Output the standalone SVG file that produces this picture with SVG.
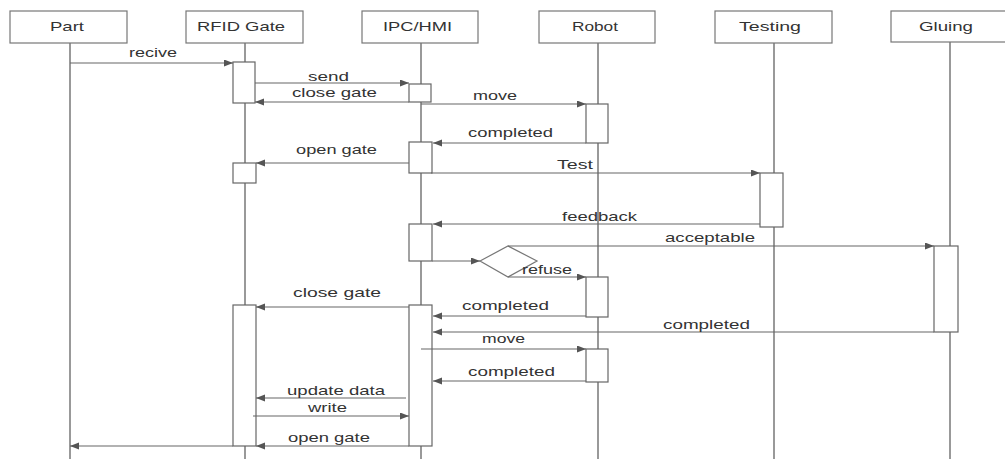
<svg xmlns="http://www.w3.org/2000/svg" width="1005" height="459" viewBox="0 0 1005 459">
<style>
.hdr{fill:#fff;stroke:#777;stroke-width:1.2}
.life{stroke:#777;stroke-width:1.5;fill:none}
.act{fill:#fff;stroke:#666;stroke-width:1.2}
.msg{stroke:#666;stroke-width:1.2;fill:none;marker-end:url(#ah)}
.t{font-family:"Liberation Sans",Arial,sans-serif;font-size:13.5px;fill:#333}
.dia{fill:#fff;stroke:#777;stroke-width:1.2}
</style>
<defs>
<marker id="ah" markerUnits="userSpaceOnUse" markerWidth="10" markerHeight="8" refX="9" refY="3.5" orient="auto">
<path d="M0,0 L9,3.5 L0,7 z" fill="#555"/>
</marker>
</defs>
<rect width="1005" height="459" fill="#fff"/>
<g id="part">
<line class="life" x1="70" y1="43" x2="70" y2="459"/>
<rect class="hdr" x="10" y="11" width="117" height="32"/>
<text class="t" x="50" y="31" textLength="34" lengthAdjust="spacingAndGlyphs">Part</text>
</g>
<g id="rfid">
<line class="life" x1="245" y1="43" x2="245" y2="459"/>
<rect class="hdr" x="186" y="11" width="117" height="32"/>
<text class="t" x="197" y="31" textLength="88" lengthAdjust="spacingAndGlyphs">RFID Gate</text>
<rect class="act" x="233" y="62" width="22" height="41"/>
<rect class="act" x="233" y="163" width="23" height="20"/>
<rect class="act" x="233" y="305" width="23" height="141"/>
</g>
<g id="ipc">
<line class="life" x1="421" y1="43" x2="421" y2="459"/>
<rect class="hdr" x="362" y="11" width="116" height="32"/>
<text class="t" x="383" y="31" textLength="69" lengthAdjust="spacingAndGlyphs">IPC/HMI</text>
<rect class="act" x="409" y="84" width="22" height="18"/>
<rect class="act" x="409" y="142" width="23" height="31"/>
<rect class="act" x="409" y="224" width="23" height="37"/>
<rect class="act" x="409" y="305" width="23" height="141"/>
</g>
<g id="robot">
<line class="life" x1="598" y1="43" x2="598" y2="459"/>
<rect class="hdr" x="539" y="11" width="116" height="32"/>
<text class="t" x="572" y="31" textLength="46" lengthAdjust="spacingAndGlyphs">Robot</text>
<rect class="act" x="586" y="104" width="22" height="39"/>
<rect class="act" x="586" y="277" width="22" height="40"/>
<rect class="act" x="586" y="349" width="22" height="33"/>
</g>
<g id="testing">
<line class="life" x1="774" y1="43" x2="774" y2="459"/>
<rect class="hdr" x="715" y="11" width="117" height="32"/>
<text class="t" x="739" y="31" textLength="62" lengthAdjust="spacingAndGlyphs">Testing</text>
<rect class="act" x="760" y="173" width="23" height="54"/>
</g>
<g id="gluing">
<line class="life" x1="950" y1="42" x2="950" y2="459"/>
<rect class="hdr" x="891" y="11" width="130" height="31"/>
<text class="t" x="919" y="31" textLength="54" lengthAdjust="spacingAndGlyphs">Gluing</text>
<rect class="act" x="934" y="246" width="24" height="86"/>
</g>
<g id="decision">
<polygon class="dia" points="480,261 508,246 537,261 508,277"/>
</g>
<g id="connectors">
<line class="msg" x1="70" y1="63" x2="233" y2="63"/>
<line class="msg" x1="255" y1="83" x2="409" y2="83"/>
<line class="msg" x1="409" y1="102" x2="255" y2="102"/>
<line class="msg" x1="421" y1="104" x2="586" y2="104"/>
<line class="msg" x1="586" y1="143" x2="433" y2="143"/>
<line class="msg" x1="409" y1="163" x2="256" y2="163"/>
<line class="msg" x1="431" y1="173" x2="760" y2="173"/>
<line class="msg" x1="760" y1="224" x2="433" y2="224"/>
<line class="msg" x1="432" y1="261" x2="480" y2="261"/>
<line class="msg" x1="508" y1="246" x2="934" y2="246"/>
<line class="msg" x1="508" y1="277" x2="586" y2="277"/>
<line class="msg" x1="409" y1="307" x2="256" y2="307"/>
<line class="msg" x1="586" y1="316" x2="433" y2="316"/>
<line class="msg" x1="934" y1="332" x2="433" y2="332"/>
<line class="msg" x1="421" y1="349" x2="586" y2="349"/>
<line class="msg" x1="586" y1="381" x2="433" y2="381"/>
<line class="msg" x1="406" y1="398" x2="256" y2="398"/>
<line class="msg" x1="253" y1="416" x2="409" y2="416"/>
<line class="msg" x1="409" y1="446" x2="256" y2="446"/>
<line class="msg" x1="233" y1="446" x2="70" y2="446"/>
<text class="t" x="129" y="57" textLength="48" lengthAdjust="spacingAndGlyphs">recive</text>
<text class="t" x="308" y="81" textLength="41" lengthAdjust="spacingAndGlyphs">send</text>
<text class="t" x="292" y="97" textLength="85" lengthAdjust="spacingAndGlyphs">close gate</text>
<text class="t" x="473" y="100" textLength="44" lengthAdjust="spacingAndGlyphs">move</text>
<text class="t" x="468" y="137" textLength="85" lengthAdjust="spacingAndGlyphs">completed</text>
<text class="t" x="296" y="154" textLength="81" lengthAdjust="spacingAndGlyphs">open gate</text>
<text class="t" x="557" y="169" textLength="36" lengthAdjust="spacingAndGlyphs">Test</text>
<text class="t" x="562" y="221" textLength="75" lengthAdjust="spacingAndGlyphs">feedback</text>
<text class="t" x="665" y="242" textLength="90" lengthAdjust="spacingAndGlyphs">acceptable</text>
<text class="t" x="522" y="274" textLength="50" lengthAdjust="spacingAndGlyphs">refuse</text>
<text class="t" x="293" y="297" textLength="88" lengthAdjust="spacingAndGlyphs">close gate</text>
<text class="t" x="462" y="310" textLength="87" lengthAdjust="spacingAndGlyphs">completed</text>
<text class="t" x="663" y="329" textLength="87" lengthAdjust="spacingAndGlyphs">completed</text>
<text class="t" x="482" y="343" textLength="43" lengthAdjust="spacingAndGlyphs">move</text>
<text class="t" x="468" y="376" textLength="87" lengthAdjust="spacingAndGlyphs">completed</text>
<text class="t" x="287" y="395" textLength="98" lengthAdjust="spacingAndGlyphs">update data</text>
<text class="t" x="308" y="412" textLength="39" lengthAdjust="spacingAndGlyphs">write</text>
<text class="t" x="288" y="442" textLength="82" lengthAdjust="spacingAndGlyphs">open gate</text>
</g>
</svg>
